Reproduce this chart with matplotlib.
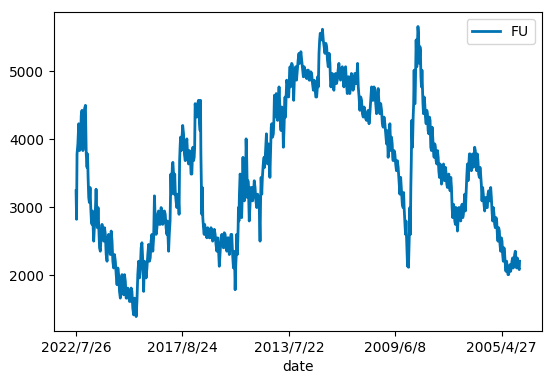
import matplotlib
matplotlib.use("Agg")
import matplotlib.pyplot as plt
import numpy as np

# trading-day position (0 = 2022/7/26, counting back in time) and the
# upper / lower edge of the price band read at that position
day = [0, 9, 25, 41, 56, 72, 88, 103, 113, 125, 138, 150, 159, 172, 188, 200, 213, 228, 244, 260,
       275, 291, 306, 322, 338, 353, 369, 385, 400, 416, 432, 447, 463, 478, 494, 510, 525, 541, 557, 572,
       588, 604, 619, 635, 650, 666, 682, 697, 713, 729, 744, 760, 775, 791, 807, 822, 838, 854, 863, 876,
       891, 901, 910, 922, 932, 947, 963, 973, 982, 994, 1010, 1026, 1041, 1057, 1073, 1088, 1098, 1110, 1119, 1135,
       1151, 1166, 1173, 1182, 1191, 1204, 1213, 1229, 1245, 1260, 1276, 1291, 1307, 1323, 1338, 1354, 1370, 1385, 1401, 1417,
       1432, 1448, 1463, 1479, 1489, 1501, 1510, 1520, 1526, 1535, 1548, 1564, 1573, 1589, 1598, 1610, 1620, 1635, 1651, 1667,
       1682, 1698, 1714, 1729, 1739, 1751, 1767, 1776, 1789, 1801, 1814, 1829, 1839, 1854, 1864, 1876, 1886, 1901, 1914, 1926,
       1942, 1954, 1964, 1973, 1986, 1998, 2011, 2020, 2033, 2045, 2064, 2079, 2095, 2105, 2120, 2136, 2151, 2167, 2183, 2198,
       2214, 2230, 2245, 2261, 2270, 2283, 2295, 2308, 2323, 2339, 2355, 2370, 2386, 2395, 2408, 2423, 2439, 2455, 2470, 2486,
       2502, 2517, 2533, 2549, 2564, 2580, 2595, 2611, 2627, 2639, 2652, 2667, 2683, 2699, 2714, 2730, 2746, 2761, 2777, 2792,
       2808, 2824, 2839, 2855, 2871, 2886, 2902, 2918, 2927, 2939, 2949, 2958, 2971, 2980, 2996, 3011, 3027, 3043, 3058, 3074,
       3083, 3096, 3105, 3115, 3121, 3127, 3137, 3146, 3155, 3168, 3177, 3186, 3196, 3208, 3218, 3227, 3236, 3246, 3255, 3265,
       3277, 3290, 3302, 3315, 3327, 3340, 3352, 3365, 3377, 3390, 3403, 3415, 3428, 3440, 3453, 3465, 3478, 3490, 3503, 3515,
       3528, 3540, 3553, 3565, 3578, 3590, 3603, 3615, 3628, 3640, 3653, 3665, 3678, 3690, 3703, 3715, 3728, 3740, 3752, 3765,
       3777, 3790, 3802, 3815, 3827, 3840, 3852, 3865, 3877, 3890, 3903, 3915, 3928, 3940, 3953, 3965, 3978, 3990, 4003, 4015,
       4028, 4040, 4053, 4065, 4078, 4090, 4103, 4115, 4128, 4140, 4153, 4165]

high = [3242, 3931, 4227, 4350, 4424, 4448, 4497, 3784, 3439, 3291, 2996, 2946, 2749, 2897, 3266, 2996, 2700, 2602, 2749, 2700,
        2602, 2552, 2602, 2651, 2503, 2306, 2208, 2109, 2011, 1912, 2011, 2011, 1912, 1814, 1765, 1814, 1765, 1666, 1617, 2011,
        2208, 2405, 2479, 2208, 2158, 2306, 2454, 2503, 2602, 3168, 2799, 2897, 2946, 2996, 2946, 2946, 2897, 2799, 2602, 2799,
        3488, 3636, 3660, 3488, 3242, 3193, 3094, 3882, 4030, 4202, 4079, 3882, 4005, 3833, 3784, 3734, 3882, 3882, 4522, 4522,
        4571, 4571, 3784, 3291, 2848, 2749, 2700, 2700, 2651, 2700, 2651, 2676, 2602, 2552, 2405, 2552, 2602, 2626, 2602, 2552,
        2552, 2602, 2602, 2355, 2306, 2306, 2602, 2700, 2996, 3488, 3439, 3734, 3390, 3390, 4005, 3390, 3291, 3291, 3291, 3390,
        3291, 3193, 3143, 3094, 3439, 3636, 3734, 3882, 4079, 3931, 3833, 4177, 4227, 4276, 4645, 4670, 4620, 4768, 4522, 4473,
        4374, 4424, 4620, 4867, 4817, 4867, 5064, 5113, 5088, 5014, 5064, 5162, 5261, 5285, 5162, 5064, 5014, 5014, 5014, 4990,
        4965, 4867, 4768, 4719, 4916, 5458, 5556, 5615, 5458, 5408, 5359, 5261, 5113, 4867, 4965, 4916, 4965, 5014, 5113, 5039,
        5064, 5014, 5064, 4916, 4916, 4965, 4916, 4965, 4965, 5113, 4768, 4620, 4571, 4473, 4424, 4374, 4424, 4571, 4768, 4768,
        4719, 4620, 4744, 4522, 4424, 4325, 4227, 4128, 4030, 4128, 4227, 4030, 3931, 3833, 3784, 3685, 3587, 3439, 3242, 3217,
        2996, 2799, 2602, 2405, 2306, 2602, 2996, 3685, 4276, 4522, 5014, 4965, 5458, 5655, 5556, 5359, 5310, 5014, 4768, 4620,
        4522, 4424, 4374, 4325, 4276, 4177, 4030, 3931, 3882, 3833, 3734, 3636, 3587, 3537, 3636, 3587, 3488, 3439, 3488, 3439,
        3291, 3045, 2996, 2996, 2897, 2996, 2996, 2996, 3045, 3045, 3193, 3439, 3636, 3784, 3784, 3734, 3784, 3882, 3833, 3784,
        3685, 3587, 3488, 3291, 3193, 3143, 3143, 3193, 3242, 3291, 3143, 2996, 2897, 2848, 2799, 2700, 2651, 2552, 2503, 2405,
        2306, 2208, 2109, 2109, 2158, 2208, 2257, 2306, 2355, 2257, 2208, 2208]

low = [2824, 3784, 3833, 3882, 3833, 3931, 3784, 3587, 3143, 3070, 2799, 2749, 2503, 2700, 2996, 2700, 2405, 2355, 2552, 2503,
       2306, 2208, 2405, 2306, 2208, 2109, 2011, 1863, 1765, 1666, 1814, 1715, 1666, 1666, 1617, 1617, 1518, 1420, 1395, 1617,
       1962, 2109, 2208, 1765, 1962, 2109, 2208, 2257, 2355, 2552, 2602, 2700, 2749, 2749, 2749, 2799, 2700, 2602, 2355, 2602,
       3193, 3439, 3488, 3193, 3094, 2996, 2897, 3685, 3833, 3980, 3784, 3685, 3734, 3636, 3488, 3488, 3685, 3734, 4424, 4325,
       4276, 4128, 3291, 2897, 2700, 2602, 2602, 2552, 2552, 2552, 2503, 2528, 2454, 2355, 2134, 2355, 2454, 2405, 2405, 2355,
       2306, 2454, 2306, 2109, 1789, 2158, 2306, 2503, 2799, 3193, 2848, 3291, 3094, 3193, 3685, 3143, 2799, 3045, 3094, 3193,
       3094, 2996, 2996, 2503, 3193, 3439, 3587, 3685, 3784, 3636, 3439, 3882, 4030, 4079, 4325, 4473, 4276, 4522, 4227, 4128,
       3882, 4128, 4325, 4571, 4670, 4620, 4768, 4965, 4891, 4571, 4867, 5014, 5113, 5162, 5014, 4916, 4916, 4891, 4867, 4867,
       4817, 4719, 4620, 4620, 4768, 5261, 5458, 5458, 5359, 5261, 5162, 5064, 4867, 4768, 4768, 4719, 4817, 4867, 4916, 4867,
       4965, 4768, 4817, 4670, 4670, 4768, 4719, 4768, 4817, 4916, 4620, 4424, 4374, 4325, 4300, 4276, 4227, 4374, 4571, 4571,
       4522, 4374, 4522, 4374, 4227, 4177, 4079, 3931, 3734, 3931, 4030, 3833, 3734, 3685, 3636, 3537, 3390, 3193, 3045, 2996,
       2799, 2602, 2405, 2134, 2119, 2306, 2602, 3291, 3882, 4325, 4522, 4522, 5064, 5359, 5261, 5113, 4916, 4768, 4522, 4374,
       4325, 4227, 4128, 4079, 3882, 3833, 3833, 3734, 3685, 3636, 3537, 3439, 3340, 3390, 3439, 3390, 3340, 3291, 3340, 3242,
       2996, 2848, 2799, 2749, 2651, 2799, 2848, 2799, 2848, 2897, 2946, 3193, 3390, 3587, 3636, 3537, 3587, 3685, 3636, 3537,
       3488, 3439, 3340, 3094, 3045, 2946, 2996, 2996, 3094, 3094, 2946, 2799, 2749, 2700, 2602, 2503, 2454, 2355, 2306, 2208,
       2158, 2060, 2011, 2011, 2060, 2109, 2109, 2158, 2208, 2109, 2109, 2085]

tick_pos = [0, 1000, 2000, 3000, 4000]
tick_labels = ["2022/7/26", "2017/8/24", "2013/7/22", "2009/6/8", "2005/4/27"]
series_name = "FU"

# build the noisy line: upper edge at each position, lower edge between positions
xs, ys = [], []
for i in range(len(day)):
    nxt = day[i + 1] if i + 1 < len(day) else day[i] + 6
    mid = (day[i] + nxt) / 2.0
    if i % 2 == 0:
        xs += [day[i], mid]
        ys += [high[i], low[i]]
    else:
        xs += [day[i], mid]
        ys += [low[i], high[i]]

fig = plt.figure(figsize=(5.5, 3.81), dpi=100)
ax = fig.add_axes([0.098, 0.131, 0.887, 0.8375])
ax.plot(xs, ys, color="#0173B2", linewidth=2.0, label=series_name)
ax.set_xticks(tick_pos)
ax.set_xticklabels(tick_labels)
ax.set_yticks([2000, 3000, 4000, 5000])
ax.set_xlabel("date")
ax.legend(loc="upper right")
fig.savefig("out.png", dpi=100)
